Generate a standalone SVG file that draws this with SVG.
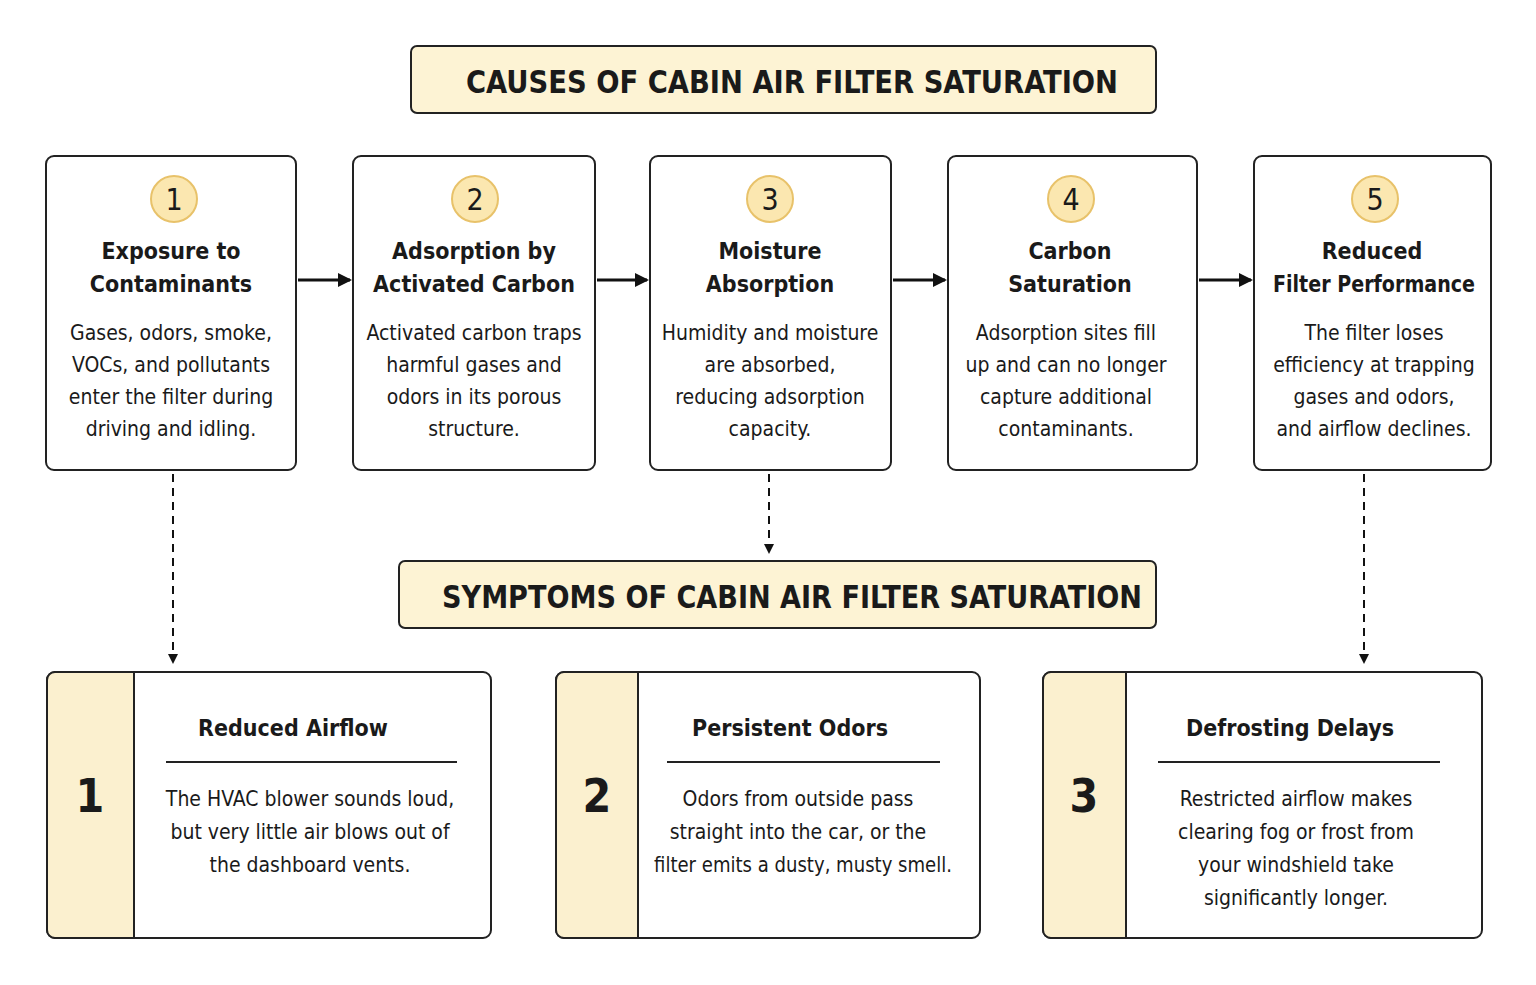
<svg xmlns="http://www.w3.org/2000/svg" width="1536" height="985" viewBox="0 0 1536 985">
<style>
text{font-family:"DejaVu Sans Condensed","Liberation Sans",sans-serif;fill:#1a1a1a;text-anchor:middle}
.hdr{fill:#fdf3d4;stroke:#222;stroke-width:2}
.ht{font-size:32px;font-weight:bold}
.box{fill:#fff;stroke:#222;stroke-width:2}
.circ{fill:#fbe7b0;stroke:#e8c26a;stroke-width:2}
.num{font-size:30px}
.t{font-size:23px;font-weight:bold}
.b{font-size:21px}
.strip{fill:#fbf0cf;stroke:#222;stroke-width:2}
.big{font-size:46px;font-weight:bold}
.c{stroke:#111;stroke-width:3;fill:none}
.d{stroke:#111;stroke-width:2;fill:none;stroke-dasharray:8 6}
</style>
<defs>
<marker id="a" markerWidth="10" markerHeight="10" refX="8" refY="5" orient="auto" markerUnits="userSpaceOnUse" viewBox="0 0 10 10"><path d="M0,0L10,5L0,10z" fill="#111"/></marker>
<marker id="as" markerWidth="14" markerHeight="14" refX="12" refY="7" orient="auto" markerUnits="userSpaceOnUse" viewBox="0 0 14 14"><path d="M0,0L14,7L0,14z" fill="#111"/></marker>
</defs>
<rect width="1536" height="985" fill="#fff"/>
<g id="title1"><rect class="hdr" x="411" y="46" width="745" height="67" rx="6"/><text class="ht" x="792" y="93" textLength="652" lengthAdjust="spacingAndGlyphs">CAUSES OF CABIN AIR FILTER SATURATION</text></g>
<g id="c1"><rect class="box" x="46" y="156" width="250" height="314" rx="8"/><circle class="circ" cx="174" cy="199" r="23"/><text class="num" x="174" y="210">1</text><text class="t" x="171" y="259">Exposure to</text><text class="t" x="171" y="292">Contaminants</text><text class="b" x="171" y="340">Gases, odors, smoke,</text><text class="b" x="171" y="372">VOCs, and pollutants</text><text class="b" x="171" y="404">enter the filter during</text><text class="b" x="171" y="436">driving and idling.</text></g>
<g id="c2"><rect class="box" x="353" y="156" width="242" height="314" rx="8"/><circle class="circ" cx="475" cy="199" r="23"/><text class="num" x="475" y="210">2</text><text class="t" x="474" y="259">Adsorption by</text><text class="t" x="474" y="292">Activated Carbon</text><text class="b" x="474" y="340">Activated carbon traps</text><text class="b" x="474" y="372">harmful gases and</text><text class="b" x="474" y="404">odors in its porous</text><text class="b" x="474" y="436">structure.</text></g>
<g id="c3"><rect class="box" x="650" y="156" width="241" height="314" rx="8"/><circle class="circ" cx="770" cy="199" r="23"/><text class="num" x="770" y="210">3</text><text class="t" x="770" y="259">Moisture</text><text class="t" x="770" y="292">Absorption</text><text class="b" x="770" y="340">Humidity and moisture</text><text class="b" x="770" y="372">are absorbed,</text><text class="b" x="770" y="404">reducing adsorption</text><text class="b" x="770" y="436">capacity.</text></g>
<g id="c4"><rect class="box" x="948" y="156" width="249" height="314" rx="8"/><circle class="circ" cx="1071" cy="199" r="23"/><text class="num" x="1071" y="210">4</text><text class="t" x="1070" y="259">Carbon</text><text class="t" x="1070" y="292">Saturation</text><text class="b" x="1066" y="340">Adsorption sites fill</text><text class="b" x="1066" y="372">up and can no longer</text><text class="b" x="1066" y="404">capture additional</text><text class="b" x="1066" y="436">contaminants.</text></g>
<g id="c5"><rect class="box" x="1254" y="156" width="237" height="314" rx="8"/><circle class="circ" cx="1375" cy="199" r="23"/><text class="num" x="1375" y="210">5</text><text class="t" x="1372" y="259">Reduced</text><text class="t" x="1374" y="292" textLength="202" lengthAdjust="spacingAndGlyphs">Filter Performance</text><text class="b" x="1374" y="340">The filter loses</text><text class="b" x="1374" y="372">efficiency at trapping</text><text class="b" x="1374" y="404">gases and odors,</text><text class="b" x="1374" y="436">and airflow declines.</text></g>
<g id="title2"><rect class="hdr" x="399" y="561" width="757" height="67" rx="6"/><text class="ht" x="792" y="608" textLength="700" lengthAdjust="spacingAndGlyphs">SYMPTOMS OF CABIN AIR FILTER SATURATION</text></g>
<g id="s1"><rect class="box" x="47" y="672" width="444" height="266" rx="8"/><path class="strip" d="M55,672H134V938H55A8,8 0 0 1 47,930V680A8,8 0 0 1 55,672Z"/><text class="big" x="90" y="812">1</text><text class="t" x="293" y="736">Reduced Airflow</text><line x1="166" y1="762" x2="457" y2="762" stroke="#222" stroke-width="2"/><text class="b" x="310" y="806">The HVAC blower sounds loud,</text><text class="b" x="310" y="839">but very little air blows out of</text><text class="b" x="310" y="872">the dashboard vents.</text></g>
<g id="s2"><rect class="box" x="556" y="672" width="424" height="266" rx="8"/><path class="strip" d="M564,672H638V938H564A8,8 0 0 1 556,930V680A8,8 0 0 1 564,672Z"/><text class="big" x="597" y="812">2</text><text class="t" x="790" y="736">Persistent Odors</text><line x1="667" y1="762" x2="940" y2="762" stroke="#222" stroke-width="2"/><text class="b" x="798" y="806">Odors from outside pass</text><text class="b" x="798" y="839">straight into the car, or the</text><text class="b" x="803" y="872" textLength="298" lengthAdjust="spacingAndGlyphs">filter emits a dusty, musty smell.</text></g>
<g id="s3"><rect class="box" x="1043" y="672" width="439" height="266" rx="8"/><path class="strip" d="M1051,672H1126V938H1051A8,8 0 0 1 1043,930V680A8,8 0 0 1 1051,672Z"/><text class="big" x="1084" y="812">3</text><text class="t" x="1290" y="736">Defrosting Delays</text><line x1="1158" y1="762" x2="1440" y2="762" stroke="#222" stroke-width="2"/><text class="b" x="1296" y="806">Restricted airflow makes</text><text class="b" x="1296" y="839">clearing fog or frost from</text><text class="b" x="1296" y="872">your windshield take</text><text class="b" x="1296" y="905">significantly longer.</text></g>
<g id="connectors">
<line class="c" x1="298" y1="280" x2="350" y2="280" marker-end="url(#as)"/>
<line class="c" x1="597" y1="280" x2="647" y2="280" marker-end="url(#as)"/>
<line class="c" x1="893" y1="280" x2="945" y2="280" marker-end="url(#as)"/>
<line class="c" x1="1199" y1="280" x2="1251" y2="280" marker-end="url(#as)"/>
<line class="d" x1="173" y1="474" x2="173" y2="662" marker-end="url(#a)"/>
<line class="d" x1="769" y1="474" x2="769" y2="552" marker-end="url(#a)"/>
<line class="d" x1="1364" y1="474" x2="1364" y2="662" marker-end="url(#a)"/>
</g>
</svg>
